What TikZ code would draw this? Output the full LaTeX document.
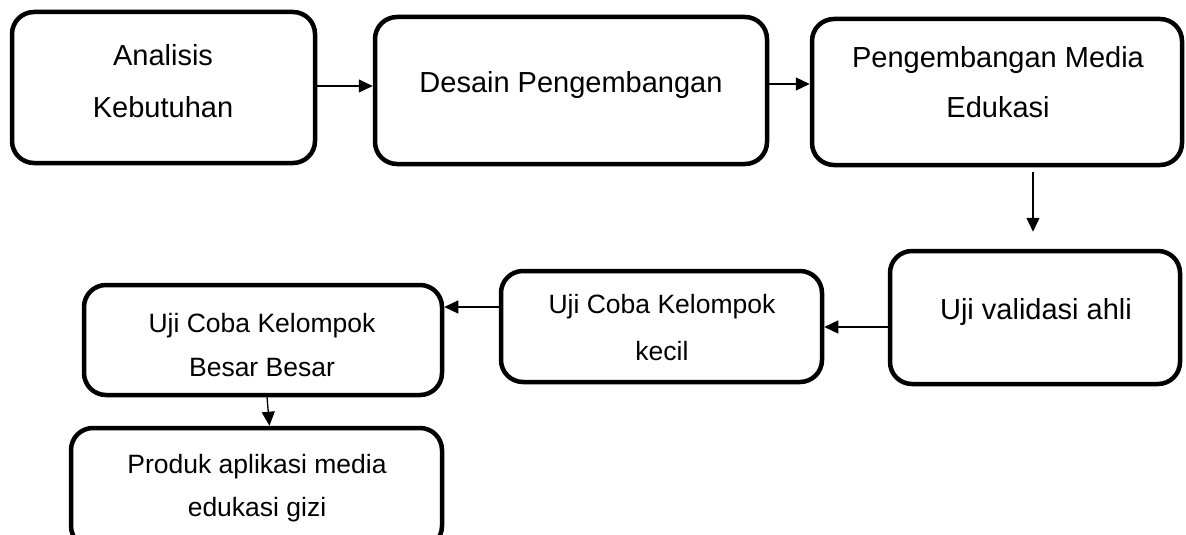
\documentclass[tikz,border=0pt]{standalone}
\usepackage{fontspec}
\setmainfont{Liberation Sans}
\usetikzlibrary{arrows.meta,calc}
\begin{document}
\begin{tikzpicture}[x=1pt,y=-1pt,
  box/.style={draw, line width=4.5pt, rounded corners=22pt, inner sep=0pt},
  lbl/.style={align=center, inner sep=0pt},
  bigtxt/.style={font=\fontsize{29}{52}\selectfont},
  midtxt/.style={font=\fontsize{26.5}{46}\selectfont},
  arr/.style={line width=1.3pt, -{Triangle[length=14pt,width=13pt]}}]
\useasboundingbox (0,0) rectangle (1186,535);

% boxes
\node[box, minimum width=303pt, minimum height=151pt] (b1) at (163.5,87.5) {};
\node[box, minimum width=392pt, minimum height=147pt] (b2) at (571,90.5) {};
\node[box, minimum width=370pt, minimum height=146pt] (b3) at (997,92) {};
\node[box, minimum width=290pt, minimum height=133pt] (b4) at (1035,317.5) {};
\node[box, minimum width=321pt, minimum height=111pt] (b5) at (661.5,326.5) {};
\node[box, minimum width=358pt, minimum height=110pt] (b6) at (263,340) {};
\node[box, minimum width=371pt, minimum height=120pt] (b7) at (256.5,488) {};

% texts
\node[lbl, bigtxt] (t1) at (163,81) {Analisis\\Kebutuhan};
\node[lbl, bigtxt] (t2) at (571,85) {Desain Pengembangan};
\node[lbl, font=\fontsize{29}{50}\selectfont] (t3) at (998,82) {Pengembangan Media\\Edukasi};
\node[lbl, bigtxt] (t4) at (1036,312) {Uji validasi ahli};
\node[lbl, font=\fontsize{26.5}{47}\selectfont] (t5) at (662,328) {Uji Coba Kelompok\\kecil};
\node[lbl, font=\fontsize{26.5}{44}\selectfont] (t6) at (262,345) {Uji Coba Kelompok\\Besar Besar};
\node[lbl, font=\fontsize{26.5}{43}\selectfont] (t7) at (257,488) {Produk aplikasi media\\edukasi gizi};

% connectors
\coordinate (y1) at (0,86);
\draw[arr] (b1.east |- y1) -- (b2.west |- y1);
\coordinate (y2) at (0,84);
\draw[arr] (b2.east |- y2) -- (b3.west |- y2);
\coordinate (x3) at (1033,0);
\draw[arr] ($(b3.south -| x3)+(0,5)$) -- ($(b4.north -| x3)+(0,-17)$);
\coordinate (y4) at (0,327);
\draw[arr] (b4.west |- y4) -- (b5.east |- y4);
\coordinate (y5) at (0,307);
\draw[arr] (b5.west |- y5) -- (b6.east |- y5);
\draw[arr] ($(b6.south)+(4,0)$) -- ($(b7.north)+(13,0)$);
\end{tikzpicture}
\end{document}
